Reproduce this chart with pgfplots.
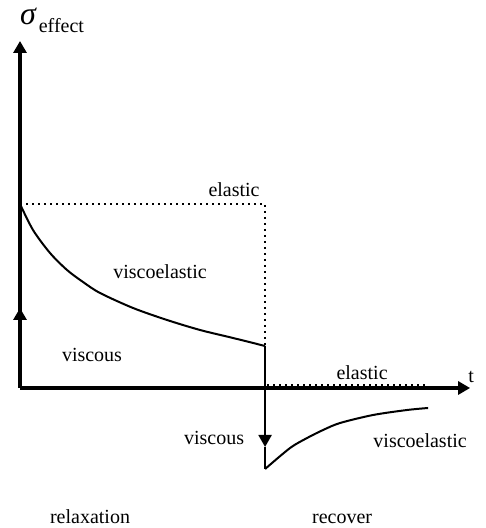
\documentclass[border=0pt]{standalone}
\usepackage{pgfplots}
\pgfplotsset{compat=1.18}
\usepackage{fontspec}
\setmainfont{Liberation Serif}
\usetikzlibrary{arrows.meta}
\begin{document}
\begin{tikzpicture}
\begin{axis}[
  scale only axis, width=242.5pt, height=264pt,
  xmin=-20, xmax=465, ymin=-140, ymax=388,
  axis lines=none, ticks=none, clip=false,
  every node/.style={font=\fontsize{13.7}{16}\selectfont, inner sep=0pt},
]
% axes
\addplot[black, line width=1.6pt, -{Triangle[length=6pt,width=6.5pt]}] coordinates {(0,0) (0,347)};
\addplot[black, line width=1.6pt, -{Triangle[length=6pt,width=6.5pt]}] coordinates {(0,0) (450,0)};
% viscous up arrow
\addplot[black, line width=1.6pt, -{Triangle[length=6pt,width=6.5pt]}] coordinates {(0,0) (0,80)};
% elastic (relaxation)
\addplot[black, line width=1pt, dotted] coordinates {(0,184) (245,184) (245,42)};
% viscoelastic relaxation curve
\addplot[black, line width=1pt, smooth] coordinates {
 (0,184) (13,158) (30,135) (47,118) (63,106) (80,95) (113,80) (147,68) (180,58) (213,50) (245,42)};
% vertical drop
\addplot[black, line width=1.1pt] coordinates {(245,42) (245,0)};
\addplot[black, line width=1.1pt, -{Triangle[length=6pt,width=6.5pt]}] coordinates {(245,0) (245,-59)};
\addplot[black, line width=1.1pt] coordinates {(245,-59) (245,-81)};
% elastic (recover)
\addplot[black, line width=1pt, dotted] coordinates {(247,3) (408,3)};
% viscoelastic recover curve
\addplot[black, line width=1pt, smooth] coordinates {
 (245,-81) (270,-60) (287,-50) (303,-42) (320,-35) (353,-27) (387,-22) (408,-20)};
% labels
\node[anchor=base west] at (axis cs:-7,363) {{\fontsize{16}{18}\selectfont\textit{σ}}\hspace{1pt}\raisebox{-4pt}{effect}};
\node[anchor=base] at (axis cs:451,5) {t};
\node[anchor=base] at (axis cs:214,191) {elastic};
\node[anchor=base] at (axis cs:140,109) {viscoelastic};
\node[anchor=base] at (axis cs:72,26) {viscous};
\node[anchor=base] at (axis cs:342,8) {elastic};
\node[anchor=base] at (axis cs:194,-57) {viscous};
\node[anchor=base] at (axis cs:400,-60) {viscoelastic};
\node[anchor=base] at (axis cs:70,-136) {relaxation};
\node[anchor=base] at (axis cs:322,-136) {recover};
\coordinate (bl) at (axis cs:-20,-140);
\coordinate (tr) at (axis cs:465,388);
\end{axis}
\pgfresetboundingbox
\useasboundingbox (bl) rectangle (tr);
\end{tikzpicture}
\end{document}
